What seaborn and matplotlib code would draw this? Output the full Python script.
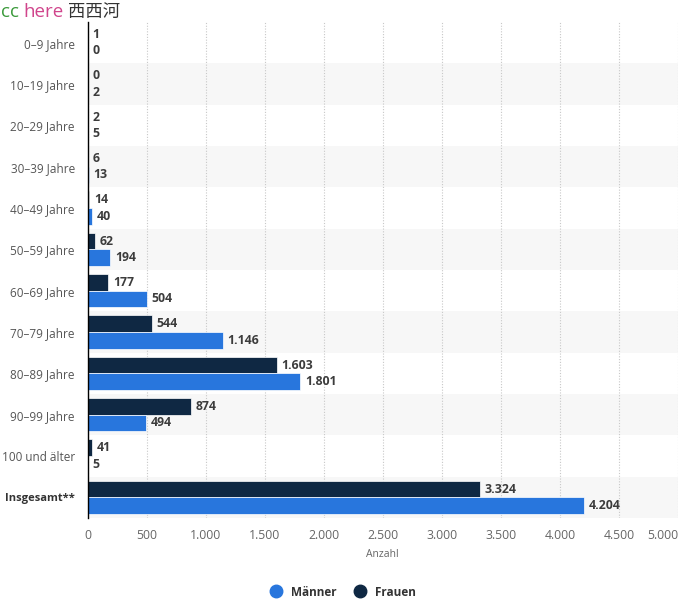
import numpy as np
import pandas as pd
import seaborn as sns
from matplotlib import pyplot as plt
from matplotlib.lines import Line2D

categories = ['0–9 Jahre', '10–19 Jahre', '20–29 Jahre', '30–39 Jahre', '40–49 Jahre',
              '50–59 Jahre', '60–69 Jahre', '70–79 Jahre', '80–89 Jahre', '90–99 Jahre',
              '100 und älter', 'Insgesamt**']
frauen = [1, 0, 2, 6, 14, 62, 177, 544, 1603, 874, 41, 3324]
maenner = [0, 2, 5, 13, 40, 194, 504, 1146, 1801, 494, 5, 4204]
x_ticks = [0, 500, 1000, 1500, 2000, 2500, 3000, 3500, 4000, 4500, 5000]

col_m = '#2876dd'
col_f = '#0f2843'


def de_fmt(v):
    return f'{v:,}'.replace(',', '.')


if __name__ == '__main__':
    sns.set_style('white')
    plt.rcParams['font.family'] = ['Open Sans', 'DejaVu Sans']

    df = pd.DataFrame({
        'Alter': categories * 2,
        'Anzahl': frauen + maenner,
        'Geschlecht': ['Frauen'] * len(categories) + ['Männer'] * len(categories),
    })

    fig = plt.figure(figsize=(6.88, 6.01), dpi=100)
    ax = fig.add_axes([87.5 / 688, 83 / 601, (678 - 87.5) / 688, (518 - 22) / 601])

    # alternating row background
    for i in range(len(categories)):
        if i % 2 == 1:
            ax.axhspan(i - 0.5, i + 0.5, color='#f7f7f7', zorder=0, lw=0)

    sns.barplot(data=df, y='Alter', x='Anzahl', hue='Geschlecht', orient='h',
                hue_order=['Frauen', 'Männer'], palette=[col_f, col_m],
                width=0.8, ax=ax, legend=False, zorder=3, saturation=1, linewidth=0.5)

    for cont in ax.containers:
        for bar in cont:
            w = bar.get_width()
            ax.text(w + 40, bar.get_y() + bar.get_height() / 2, de_fmt(int(round(w))),
                    va='center', ha='left', fontsize=8.8, fontweight='bold',
                    color='#3c3c3c', zorder=5)

    ax.set_xlim(0, 5000)
    ax.set_ylim(len(categories) - 0.5, -0.5)
    ax.set_xticks(x_ticks)
    ax.set_xticklabels([de_fmt(t) for t in x_ticks], fontsize=8.8, color='#666666')
    ax.get_xticklabels()[-1].set_ha('right')
    ax.tick_params(axis='x', length=0, pad=8)
    ax.tick_params(axis='y', length=0, pad=9)
    for lbl in ax.get_yticklabels():
        lbl.set_fontsize(8.5)
        lbl.set_color('#555555')
    ax.get_yticklabels()[-1].set_fontweight('bold')
    ax.get_yticklabels()[-1].set_fontsize(8)
    ax.get_yticklabels()[-1].set_color('#333333')
    ax.set_ylabel('')
    ax.set_xlabel('Anzahl', fontsize=7.5, color='#666666', labelpad=5)

    ax.grid(axis='x', linestyle=(0, (1, 1.5)), color='#c8c8c8', linewidth=0.8, zorder=1)
    ax.set_axisbelow(True)
    for s in ['top', 'right', 'bottom']:
        ax.spines[s].set_visible(False)
    ax.spines['left'].set_color('#000000')
    ax.spines['left'].set_linewidth(1)
    ax.spines['left'].set_zorder(6)

    handles = [Line2D([], [], marker='o', linestyle='', markersize=9, color=col_m),
               Line2D([], [], marker='o', linestyle='', markersize=9, color=col_f)]
    fig.legend(handles, ['Männer', 'Frauen'], loc='center', bbox_to_anchor=(340 / 688, 1 - 592 / 601),
               ncol=2, frameon=False, handletextpad=0.3, columnspacing=1.0,
               prop={'weight': 'bold', 'size': 8.5})
    for t in fig.legends[0].get_texts():
        t.set_color('#333333')

    # watermark
    fig.text(1 / 688, 1 - 12 / 601, 'cc', color='#3a9a3a', fontsize=13.5, va='center')
    fig.text(23 / 688, 1 - 12 / 601, 'here', color='#d0458c', fontsize=13.5, va='center')
    fig.text(68 / 688, 1 - 12 / 601, '西西河', color='#333333', fontsize=12.5, va='center',
             family=['Noto Sans CJK SC', 'DejaVu Sans'])

    plt.savefig('out.png', dpi=100)
